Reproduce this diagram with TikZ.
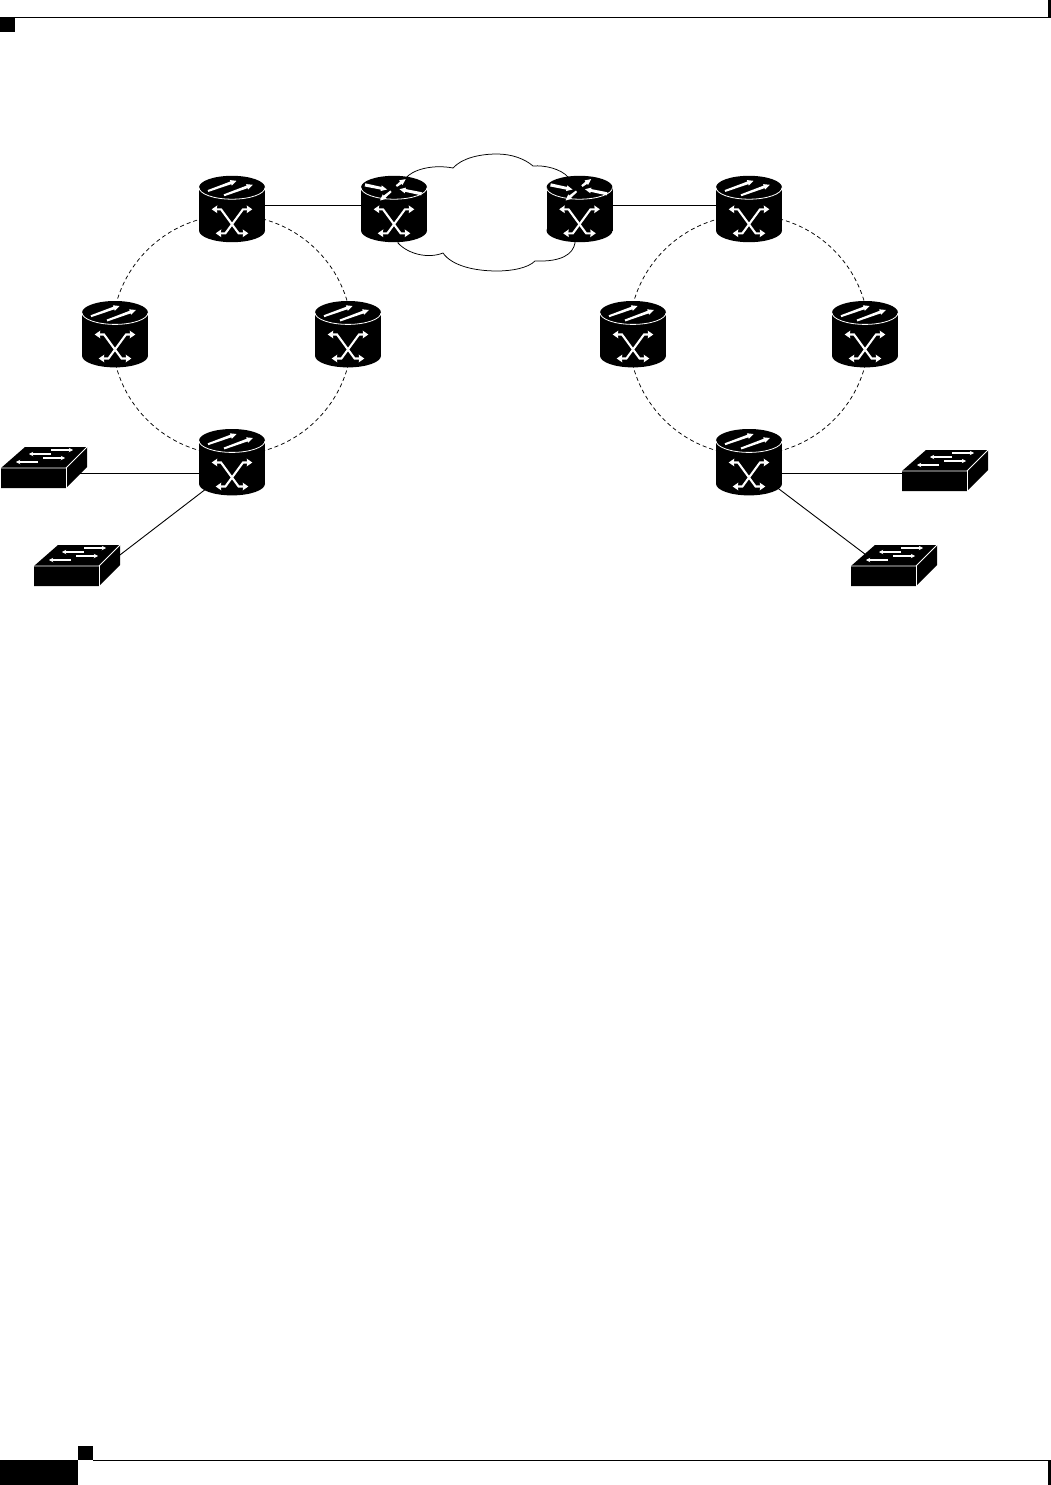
\documentclass[tikz,border=0pt]{standalone}
\usetikzlibrary{arrows.meta,calc,backgrounds}
\tikzset{
  devbox/.style={inner sep=0pt,outer sep=0pt,minimum width=#1},
  wire/.style={black,line width=0.9pt},
  ringline/.style={draw=black,line width=0.75pt,dash pattern=on 4pt off 3pt,circle,minimum size=240pt,inner sep=0pt},
  cloudline/.style={black,line width=0.75pt},
  cross/.style={white,line width=2.1pt,{Stealth[length=5.5pt,width=7.5pt,inset=0.5pt]}-{Stealth[length=5.5pt,width=7.5pt,inset=0.5pt]}},
  thin arrow/.style={white,line width=1.05pt,-{Stealth[length=4.2pt,width=4.4pt]}},
  edge white/.style={white,line width=0.8pt},
}
% tapered white arrow: tail half-width, then start x,y and tip x,y
\newcommand{\taper}[5]{%
  \pgfmathsetmacro\tapang{atan2(-((#5)-(#3)),(#4)-(#2))}%
  \pgfmathsetmacro\taplen{veclen((#4)-(#2),(#5)-(#3))}%
  \pgfmathsetmacro\tapneck{\taplen-6}%
  \fill[white,shift={(#2,#3)},rotate=\tapang] (0,-#1) -- (\tapneck,-1.4) -- (\tapneck,-2.9) -- (\taplen,0) -- (\tapneck,2.9) -- (\tapneck,1.4) -- (0,#1) -- cycle;
}
\newcommand{\cylbody}{%
  \fill[black] (0,0) ellipse[x radius=33,y radius=11.7];
  \fill[black] (-33,0) rectangle (33,43);
  \fill[black] (0,43) ellipse[x radius=33,y radius=11.7];
  \draw[edge white] (-33,0) .. controls (-33,6.5) and (-18,11.7) .. (0,11.7) .. controls (18,11.7) and (33,6.5) .. (33,0);
  \draw[cross] (-20.3,21.8) -- (-11,21.8) -- (6.6,45.8) -- (16.3,45.8);
  \draw[cross] (20.3,21.8) -- (11,21.8) -- (-6.6,45.8) -- (-16.3,45.8);
}
\newcommand{\ringdev}[3]{%
  \node[devbox=66pt,minimum height=66pt] (#1) at (#2,#3+21.5) {};
  \begin{scope}[shift={(#2,#3)}]
    \cylbody
    \taper{1.0}{-24}{3.5}{4.5}{-6.7}
    \taper{1.0}{-8}{7.8}{20.8}{-2.7}
  \end{scope}
}
\newcommand{\edgedev}[3]{%
  \node[devbox=66pt,minimum height=66pt] (#1) at (#2,#3+21.5) {};
  \begin{scope}[shift={(#2,#3)}]
    \cylbody
    \taper{1.6}{-29}{-2.6}{-7}{2}
    \taper{1.0}{-3}{3.8}{-14}{13}
    \taper{1.0}{2.4}{-1.4}{11.6}{-8.4}
    \taper{1.6}{27.5}{6.3}{5.5}{1.7}
  \end{scope}
}
\newcommand{\switchdev}[3]{%
  \node[devbox=86pt,minimum height=41pt] (#1) at (#2+43,#3-0.5) {};
  \begin{scope}[shift={(#2,#3)}]
    \fill[black] (0,0) -- (24,-21) -- (86,-21) -- (86,-1) -- (65,20) -- (0,20) -- cycle;
    \draw[edge white] (0,0) -- (65,0) -- (86,-21);
    \draw[edge white] (65,0) -- (65,20);
    \draw[thin arrow] (50,-18) -- (72,-18);
    \draw[thin arrow] (50,-14) -- (28,-14);
    \draw[thin arrow] (42,-10) -- (64,-10);
    \draw[thin arrow] (37,-6) -- (15,-6);
  \end{scope}
}
\begin{document}
\begin{tikzpicture}[x=1pt,y=-1pt]
\useasboundingbox (0,0) rectangle (1051,1485);
% devices
\ringdev{ltop}{232}{187.5}
\ringdev{lleft}{115}{312.7}
\ringdev{lright}{348}{312.7}
\ringdev{lbot}{232}{440.7}
\ringdev{rtop}{749}{187.5}
\ringdev{rleft}{633}{312.7}
\ringdev{rright}{865}{312.7}
\ringdev{rbot}{749}{440.7}
\edgedev{cl}{394}{187.5}
\edgedev{cr}{579.5}{187.5}
\switchdev{swa}{1}{468}
\switchdev{swb}{34}{566}
\switchdev{swc}{902}{471}
\switchdev{swd}{851}{566}
\begin{scope}[on background layer]
  \fill[white] (0,0) rectangle (1051,1485);
  % page marks
  \fill[black] (0,17) rectangle (15,32);
  \fill[black] (15,16.6) rectangle (1051,17.8);
  \fill[black] (1048,0) rectangle (1051,17.8);
  \fill[black] (0,1460) rectangle (78,1485);
  \fill[black] (78,1446) rectangle (93,1460);
  \fill[black] (93,1459.6) rectangle (1051,1460.8);
  \fill[black] (1048,1460) rectangle (1051,1485);
  % rings
  \node[ringline] (ringl) at (232,335) {};
  \node[ringline] (ringr) at (749,335) {};
  % cloud
  \draw[cloudline] (406,178) .. controls (412,170) and (432,164) .. (453,168)
    .. controls (462,158) and (480,154) .. (497,154)
    .. controls (512,154) and (525,159) .. (533,166)
    .. controls (545,165) and (561,169) .. (568,177)
    -- (575,243)
    .. controls (573,254) and (562,262) .. (535,261)
    .. controls (528,268) and (512,271) .. (497,271)
    .. controls (475,271) and (452,266) .. (443,253)
    .. controls (428,259) and (408,254) .. (398,243)
    -- cycle;
  % connectors
  \draw[wire] ($(ltop.center)+(0,-4)$) -- ($(cl.center)+(0,-4)$);
  \draw[wire] ($(cr.center)+(0,-4)$) -- ($(rtop.center)+(0,-4)$);
  \draw[wire] ($(swa.center)+(0,6)$) -- ($(lbot.center)+(0,11.3)$);
  \draw[wire] ($(swb.center)+(24,4)$) -- ($(lbot.center)+(-14,17.5)$);
  \draw[wire] ($(swc.center)+(0,3)$) -- ($(rbot.center)+(0,11.3)$);
  \draw[wire] ($(swd.center)+(-14,0)$) -- ($(rbot.center)+(21,20)$);
\end{scope}
\end{tikzpicture}
\end{document}
